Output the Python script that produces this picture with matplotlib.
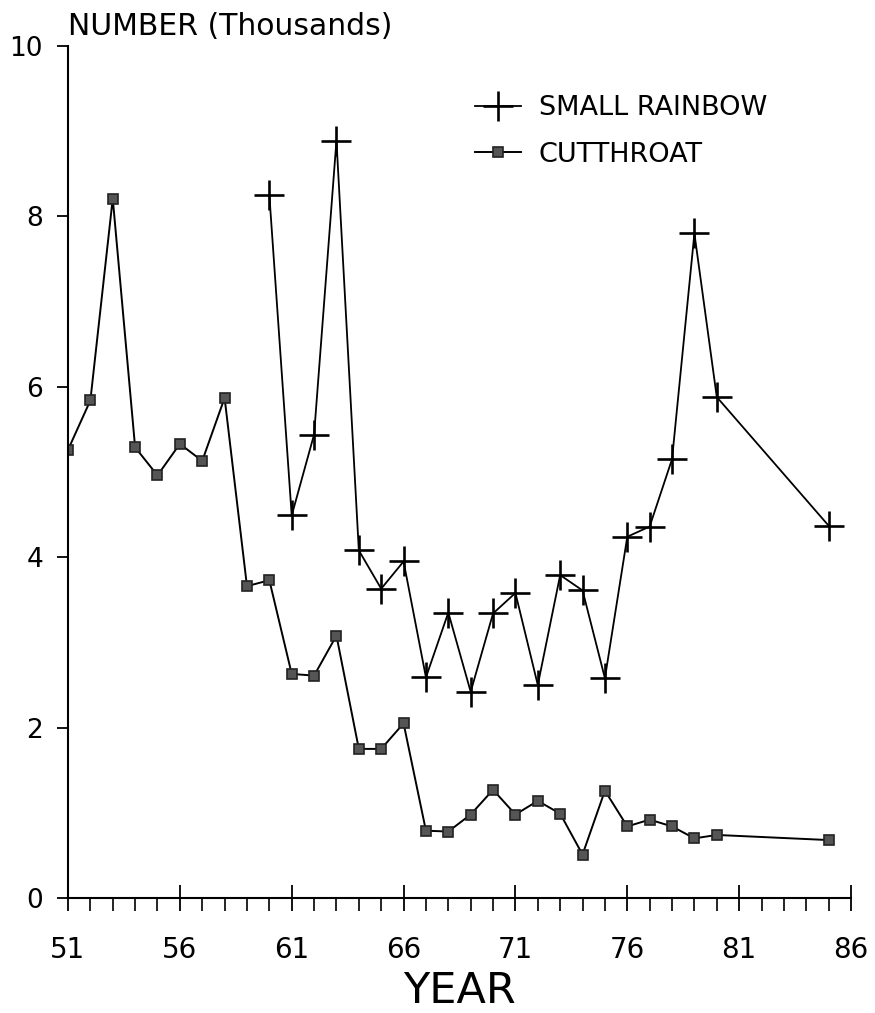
import matplotlib
matplotlib.use('Agg')
import matplotlib.pyplot as plt
from matplotlib.ticker import MultipleLocator

# Годы и численность (тыс.)
rainbow_years = [60, 61, 62, 63, 64, 65, 66, 67, 68, 69, 70, 71, 72, 73,
                 74, 75, 76, 77, 78, 79, 80, 85]
rainbow_counts = [8.25, 4.49, 5.44, 8.89, 4.08, 3.63, 3.95, 2.59, 3.35, 2.42,
                  3.34, 3.58, 2.50, 3.79, 3.61, 2.58, 4.24, 4.36, 5.15, 7.80,
                  5.88, 4.37]

cutthroat_years = [51, 52, 53, 54, 55, 56, 57, 58, 59, 60, 61, 62, 63, 64,
                   65, 66, 67, 68, 69, 70, 71, 72, 73, 74, 75, 76, 77, 78,
                   79, 80, 85]
cutthroat_counts = [5.26, 5.84, 8.21, 5.29, 4.96, 5.33, 5.13, 5.87, 3.66,
                    3.73, 2.63, 2.61, 3.08, 1.75, 1.75, 2.05, 0.79, 0.78,
                    0.98, 1.27, 0.98, 1.14, 0.99, 0.51, 1.26, 0.84, 0.92,
                    0.84, 0.70, 0.74, 0.68]

x_ticks = [51, 56, 61, 66, 71, 76, 81, 86]
y_ticks = [0, 2, 4, 6, 8, 10]

plt.rcParams['font.family'] = 'DejaVu Sans'

fig = plt.figure(figsize=(8.75, 10.13), dpi=100)
ax = fig.add_axes([68 / 875, 1 - 898 / 1013, (851 - 68) / 875, (898 - 46) / 1013])

ax.plot(rainbow_years, rainbow_counts, color='black', lw=1.3,
        marker='+', markersize=22, markeredgewidth=1.9, label='SMALL RAINBOW')
ax.plot(cutthroat_years, cutthroat_counts, color='black', lw=1.4,
        marker='s', markersize=6.5, markerfacecolor='#555555',
        markeredgecolor='#222222', markeredgewidth=1.2, label='CUTTHROAT')

ax.set_xlim(51, 86)
ax.set_ylim(0, 10)

# Оси в стиле плоттера
for side in ['top', 'right']:
    ax.spines[side].set_visible(False)
for side in ['left', 'bottom']:
    ax.spines[side].set_linewidth(1.5)

ax.set_xticks(x_ticks)
ax.xaxis.set_minor_locator(MultipleLocator(1))
ax.set_yticks(y_ticks)
ax.tick_params(axis='x', which='major', direction='inout', length=19,
               width=1.3, labelsize=20, pad=18)
ax.tick_params(axis='x', which='minor', direction='out', length=9, width=1.2)
ax.tick_params(axis='y', which='major', direction='out', length=8,
               width=1.3, labelsize=19, pad=10)

ax.set_xlabel('YEAR', fontsize=31, labelpad=4)
ax.text(0, 1.013, 'NUMBER (Thousands)', transform=ax.transAxes,
        ha='left', va='baseline', fontsize=21.5)

ax.legend(loc='upper left', bbox_to_anchor=(0.52, 0.942), frameon=False,
          fontsize=19.5, handlelength=1.7, handletextpad=0.65,
          labelspacing=0.75, borderpad=0, borderaxespad=0, markerscale=1.0)

fig.savefig('out.png', dpi=100)
